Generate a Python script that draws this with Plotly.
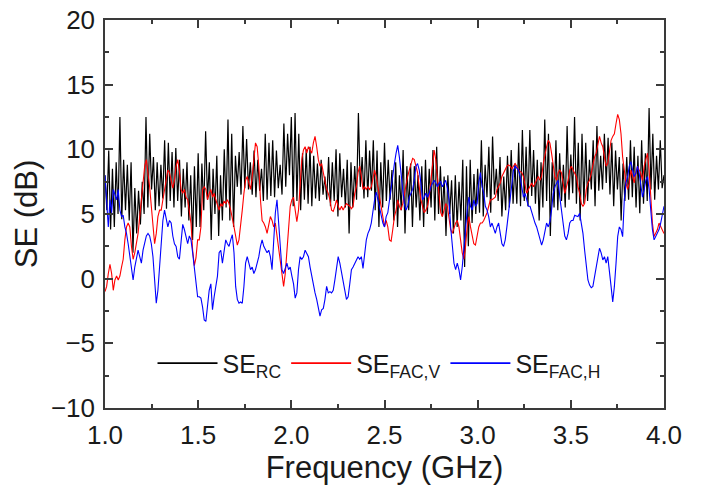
import numpy as np
import plotly.graph_objects as go

# ---- data ----
se_rc = [
    8.0, 5.3, 9.9, 3.8, 8.5, 4.0, 9.0, 5.0, 12.5, 4.6,
    9.2, 5.3, 8.8, 4.5, 9.0, 2.0, 7.0, 3.5, 6.8, 4.2,
    7.5, 5.0, 12.5, 5.5, 11.2, 6.9, 9.4, 5.3, 9.0, 5.6,
    8.8, 6.2, 10.7, 5.4, 10.5, 6.0, 9.8, 5.5, 10.1, 6.0,
    9.2, 4.8, 8.5, 5.5, 9.0, 4.5, 8.0, 3.0, 8.7, 4.0,
    9.7, 4.0, 8.9, 5.3, 11.4, 6.1, 9.0, 3.0, 8.5, 5.0,
    9.5, 3.3, 8.0, 4.5, 10.0, 5.5, 12.3, 4.5, 11.2, 4.0,
    9.5, 7.1, 9.8, 6.5, 11.8, 7.0, 10.8, 6.9, 9.0, 6.5,
    9.9, 6.3, 9.2, 6.8, 8.5, 6.0, 11.2, 6.1, 10.5, 6.4,
    10.7, 6.3, 9.9, 7.0, 8.8, 6.5, 12.0, 7.1, 11.2, 8.0,
    12.5, 5.6, 12.8, 6.0, 11.2, 5.3, 9.7, 6.1, 10.0, 5.8,
    10.2, 5.6, 9.5, 6.2, 8.9, 6.0, 9.2, 6.5, 7.9, 6.1,
    9.4, 5.6, 9.0, 6.0, 10.0, 4.8, 9.7, 6.3, 8.5, 5.5,
    9.2, 3.5, 9.0, 5.5, 8.7, 6.1, 12.8, 7.1, 9.4, 6.2,
    10.7, 6.3, 9.9, 6.8, 10.7, 5.3, 9.9, 4.0, 9.0, 5.5,
    10.5, 6.0, 9.2, 6.1, 8.4, 4.5, 9.0, 4.0, 8.0, 5.3,
    9.95, 3.5, 8.7, 5.3, 8.9, 4.0, 8.7, 5.5, 8.0, 4.5,
    8.7, 4.0, 9.2, 5.0, 8.5, 5.5, 9.95, 4.5, 10.2, 5.0,
    8.7, 4.8, 7.9, 3.3, 8.0, 5.0, 7.6, 3.5, 8.0, 4.0,
    7.5, 4.5, 9.2, 0.9, 8.7, 2.5, 9.2, 4.3, 8.1, 5.0,
    8.5, 5.1, 10.7, 4.8, 8.8, 6.3, 10.2, 5.1, 11.0, 6.5,
    8.5, 6.0, 9.4, 4.8, 7.9, 5.3, 9.5, 5.5, 9.95, 5.8,
    8.9, 5.8, 10.5, 5.6, 11.5, 6.0, 10.2, 5.6, 11.5, 6.4,
    9.95, 5.8, 9.2, 4.5, 9.0, 5.5, 12.3, 6.0, 11.2, 3.3,
    9.0, 5.5, 10.7, 5.3, 9.7, 6.0, 8.8, 5.5, 11.8, 6.1,
    9.6, 6.6, 12.5, 5.8, 10.5, 4.5, 11.2, 5.8, 10.5, 6.0,
    9.2, 6.9, 10.7, 5.6, 11.8, 6.8, 9.5, 6.9, 11.2, 7.4,
    10.9, 6.5, 10.5, 5.6, 9.9, 6.9, 9.4, 4.5, 8.9, 6.0,
    9.4, 6.1, 10.7, 6.3, 10.2, 5.5, 9.5, 5.05, 10.7, 5.8,
    9.7, 6.0, 13.2, 6.9, 11.2, 6.1, 9.5, 6.9, 10.7, 7.0,
    8.0,
]

se_fac_v = [
    # 1.00 - 1.50
    -1.0, -0.6, 0.4, 1.1, 0.4, -0.9, -0.1, 0.2, -0.1, 0.2,
    0.9, 1.5, 3.0, 4.0, 4.3, 4.0, 2.5, 1.5, 2.0, 2.7,
    3.5, 4.8, 6.1, 7.6, 8.7, 9.2, 8.2, 7.1, 5.6, 3.8,
    2.7, 3.5, 4.8, 5.3, 5.3, 6.1, 6.9, 7.9, 8.4, 8.2,
    7.6, 7.0, 7.6, 8.7, 9.2, 8.3, 6.9, 6.6, 6.9, 6.3,
    6.1, 5.3, 4.3, 2.2, 1.0, 1.6, 3.0,
    # 1.50 - 2.01
    3.0, 4.0, 6.9, 7.1, 6.9, 6.1, 6.6, 6.9, 6.3, 6.6,
    6.1, 5.6, 5.3, 5.8, 5.6, 6.0, 5.8, 6.1, 5.8, 5.3,
    4.5, 4.0, 3.3, 2.6, 3.0, 4.0, 5.3, 6.6, 7.6, 7.9,
    7.4, 6.9, 7.9, 9.4, 10.5, 10.2, 8.7, 6.1, 4.5, 4.3,
    4.0, 3.5, 4.3, 4.8, 4.5, 4.0, 4.3, 3.3, 2.5, 1.7,
    0.4, -0.6, 0.4, 2.2, 4.0, 5.6, 6.1,
    # 2.01 - 2.51
    6.3, 5.3, 4.4, 5.3, 7.4, 9.2, 9.95, 10.2, 9.7, 10.2,
    9.95, 9.7, 10.5, 11.0, 10.2, 9.2, 8.7, 8.9, 8.2, 7.6,
    6.9, 6.6, 6.1, 5.3, 5.2, 5.6, 6.1, 5.6, 5.3, 5.6,
    5.3, 5.6, 5.8, 5.7, 5.6, 5.4, 5.6, 6.6, 7.1, 8.2,
    8.7, 7.9, 6.9, 7.1, 6.9, 7.1, 6.9, 7.1, 7.9, 8.4,
    7.9, 7.1, 6.3, 5.6, 4.8, 4.0, 4.5,
    # 2.51 - 3.02
    4.0, 3.0, 2.9, 3.8, 4.8, 5.3, 6.1, 5.6, 5.3, 5.8,
    6.6, 7.1, 7.9, 8.4, 8.9, 9.3, 9.2, 8.7, 8.2, 7.1,
    6.1, 5.6, 5.1, 5.3, 5.6, 6.3, 7.4, 8.9, 9.95, 9.2,
    7.6, 6.3, 5.1, 4.8, 5.3, 5.8, 5.6, 4.8, 3.8, 3.5,
    4.0, 4.3, 4.5, 4.0, 3.0, 2.0, 1.5, 2.5, 4.0, 4.8,
    4.0, 3.3, 2.7, 2.6, 3.3, 4.0, 4.3,
    # 3.02 - 3.52
    4.3, 4.5, 4.8, 5.1, 5.6, 6.1, 6.1, 6.2, 6.3, 6.9,
    7.1, 7.4, 7.9, 8.2, 8.4, 8.7, 8.8, 8.7, 8.5, 8.7,
    8.9, 8.7, 8.4, 8.3, 8.2, 7.9, 7.1, 6.6, 6.9, 7.1,
    7.4, 7.1, 7.4, 7.6, 7.9, 7.6, 7.9, 8.9, 9.7, 10.2,
    10.7, 10.5, 9.7, 8.7, 7.9, 7.6, 8.2, 8.4, 8.2, 7.4,
    6.6, 7.1, 7.6, 8.4, 8.7, 8.4, 8.2,
    # 3.52 - 4.00
    7.9, 7.1, 6.6, 5.8, 5.6, 5.8, 6.9, 7.4, 7.6, 8.15,
    8.9, 9.4, 9.7, 10.5, 11.0, 10.5, 10.2, 9.4, 8.7, 8.9,
    10.0, 10.7, 11.0, 11.2, 12.0, 12.7, 12.3, 11.2, 9.4, 8.4,
    7.4, 6.9, 7.4, 8.4, 7.9, 7.4, 8.15, 8.7, 8.4, 8.15,
    7.6, 8.7, 9.2, 9.7, 8.4, 6.1, 4.3, 3.25, 3.5, 3.8,
    4.3, 4.0, 3.8, 3.5,
]

se_fac_h = [
    # 1.00 - 1.50
    8.0, 6.0, 4.0, 6.1, 5.1, 6.9, 6.5, 6.1, 6.9, 5.3,
    4.8, 4.9, 4.0, 3.5, 2.7, 1.7, 0.9, -0.1, 0.9, 1.7,
    2.2, 1.7, 1.2, 2.2, 2.7, 3.3, 3.5, 3.3, 2.7, 1.7,
    -0.1, -1.9, -0.9, 0.9, 3.0, 4.5, 5.3, 4.5, 4.0, 4.5,
    4.3, 3.3, 2.7, 2.5, 1.7, 1.5, 3.0, 4.2, 3.8, 3.3,
    2.7, 3.3, 3.0, 2.0, 0.7, -0.6, -1.4,
    # 1.50 - 2.01
    -1.4, -1.5, -2.2, -3.2, -3.3, -2.2, -0.9, -0.4, -2.4, -1.4,
    -0.6, 0.2, 2.0, 2.2, 1.2, 2.2, 3.0, 2.7, 2.5, 3.0,
    3.4, 2.0, -0.6, -1.6, -1.9, -1.8, -1.9, -0.6, 1.2, 1.7,
    1.2, 0.7, 0.9, 0.4, 0.7, 1.2, 1.7, 2.5, 3.0, 2.5,
    2.2, 2.0, 2.2, 1.7, 0.7, 2.7, 5.1, 6.1, 4.5, 2.7,
    0.7, 0.4, 0.9, 1.2, 0.7, 0.9, 0.2,
    # 2.01 - 2.51
    -0.4, -1.5, -1.1, 0.7, 1.7, 1.5, 1.7, 2.2, 2.0, 1.7,
    0.9, 0.2, -0.6, -1.1, -1.6, -2.4, -2.9, -2.4, -2.3, -1.6,
    -0.6, -1.1, -1.0, -1.1, -0.9, -0.1, 0.9, 1.7, 1.2, 0.4,
    -0.1, -0.9, -1.6, -1.4, -0.4, 0.7, 0.9, 1.2, 1.5, 1.7,
    1.5, 1.7, 0.8, 2.0, 3.0, 3.5, 3.8, 4.3, 5.3, 6.1,
    6.7, 6.1, 5.3, 4.8, 4.3, 4.0, 4.8,
    # 2.51 - 3.02
    5.1, 6.1, 7.1, 8.2, 8.9, 9.7, 10.3, 9.4, 7.9, 6.9,
    5.8, 5.3, 5.6, 6.3, 6.6, 6.9, 7.6, 8.7, 8.9, 8.4,
    7.4, 6.1, 6.3, 6.6, 6.3, 6.6, 7.1, 7.4, 7.6, 7.4,
    7.1, 7.4, 7.5, 7.1, 7.4, 7.6, 7.0, 6.1, 4.0, 2.2,
    1.2, 0.7, 1.2, 0.7, -0.1, 0.9, 2.5, 3.5, 5.3, 6.3,
    5.6, 5.3, 6.1, 5.6, 5.8, 7.4, 8.2,
    # 3.02 - 3.52
    7.1, 6.6, 5.6, 5.3, 4.8, 4.0, 4.3, 3.8, 3.5, 4.0,
    4.3, 3.5, 2.7, 2.5, 3.0, 4.0, 5.1, 6.3, 7.4, 8.4,
    8.7, 8.5, 8.4, 7.9, 7.1, 6.3, 6.6, 6.1, 5.6, 5.6,
    5.1, 4.8, 4.3, 4.0, 3.5, 3.0, 2.6, 3.0, 3.8, 4.3,
    4.0, 4.4, 5.3, 6.6, 7.1, 7.4, 7.6, 6.3, 5.3, 4.3,
    3.3, 3.0, 3.5, 4.3, 4.5, 4.5, 4.9,
    # 3.52 - 4.00
    4.85, 4.8, 5.05, 4.3, 3.5, 2.2, 1.2, -0.1, -0.5, -0.7,
    -0.6, 0.2, 0.9, 1.7, 2.35, 2.0, 1.45, 1.7, 1.2, 1.7,
    0.7, -0.6, -1.8, -0.6, 1.2, 3.25, 4.0, 3.8, 3.25, 6.1,
    7.4, 7.9, 8.7, 9.05, 8.4, 7.9, 8.15, 8.7, 8.15, 7.1,
    6.3, 6.9, 7.6, 7.9, 6.9, 5.3, 3.8, 3.0, 3.25, 3.5,
    3.8, 4.3, 5.05, 5.6,
]

series_names = ["SE<sub>RC</sub>", "SE<sub>FAC,V</sub>", "SE<sub>FAC,H</sub>"]
series_colors = ["#000000", "#ff0000", "#0000ff"]

freq_start, freq_stop = 1.0, 4.0
freq_rc = np.linspace(freq_start, freq_stop, len(se_rc))
freq_fac_v = np.linspace(freq_start, freq_stop, len(se_fac_v))
freq_fac_h = np.linspace(freq_start, freq_stop, len(se_fac_h))

x_ticks = [1.0, 1.5, 2.0, 2.5, 3.0, 3.5, 4.0]
y_ticks = [-10, -5, 0, 5, 10, 15, 20]

FONT = "Arial, 'Liberation Sans', sans-serif"
AX = "#3a3a3a"
TXT = "#1a1a1a"

fig = go.Figure()
for xs, ys, name, col, w in [
    (freq_rc, se_rc, series_names[0], series_colors[0], 1.2),
    (freq_fac_v, se_fac_v, series_names[1], series_colors[1], 1.1),
    (freq_fac_h, se_fac_h, series_names[2], series_colors[2], 1.1),
]:
    fig.add_trace(go.Scatter(x=xs, y=ys, mode="lines", name=name, legendgroup=name,
                             showlegend=False, line=dict(color=col, width=w)))

# legend-only entries with a slightly thicker stroke
for name, col in zip(series_names, series_colors):
    fig.add_trace(go.Scatter(x=[None], y=[None], mode="lines", name=name, legendgroup=name,
                             line=dict(color=col, width=1.6)))

axis_common = dict(
    showline=True, mirror="allticks", linecolor=AX, linewidth=1.5,
    ticks="inside", ticklen=8, tickwidth=1.5, tickcolor=AX,
    showgrid=False, zeroline=False, automargin=False,
    ticklabeloverflow="allow",
    tickfont=dict(family=FONT, size=26, color=TXT),
)

fig.update_layout(
    width=716, height=498,
    margin=dict(l=105, r=52, t=20, b=90),
    paper_bgcolor="white", plot_bgcolor="white",
    font=dict(family=FONT, color=TXT),
    xaxis=dict(
        range=[freq_start, freq_stop], tickvals=x_ticks,
        ticktext=[f"{v:.1f}" for v in x_ticks],
        minor=dict(dtick=0.25, ticks="inside", ticklen=4, tickwidth=1.5, tickcolor=AX),
        title=dict(text="Frequency (GHz)", font=dict(family=FONT, size=31), standoff=6),
        ticklabelstandoff=3,
        **axis_common,
    ),
    yaxis=dict(
        range=[-10, 20], tickvals=y_ticks,
        minor=dict(dtick=2.5, ticks="inside", ticklen=4, tickwidth=1.5, tickcolor=AX),
        title=dict(text="SE (dB)", font=dict(family=FONT, size=31), standoff=4),
        ticklabelstandoff=3,
        **axis_common,
    ),
    legend=dict(
        orientation="h", x=0.085, y=0.115, xanchor="left", yanchor="middle",
        bgcolor="rgba(0,0,0,0)", font=dict(family=FONT, size=25, color=TXT),
        itemwidth=60, tracegroupgap=0,
    ),
)

# remove the default page margin so the figure sits at the window's top-left corner
fig.write_html(
    "out.html",
    config={"displayModeBar": False},
    post_script="document.body.style.margin='0';document.body.style.overflow='hidden';",
)
